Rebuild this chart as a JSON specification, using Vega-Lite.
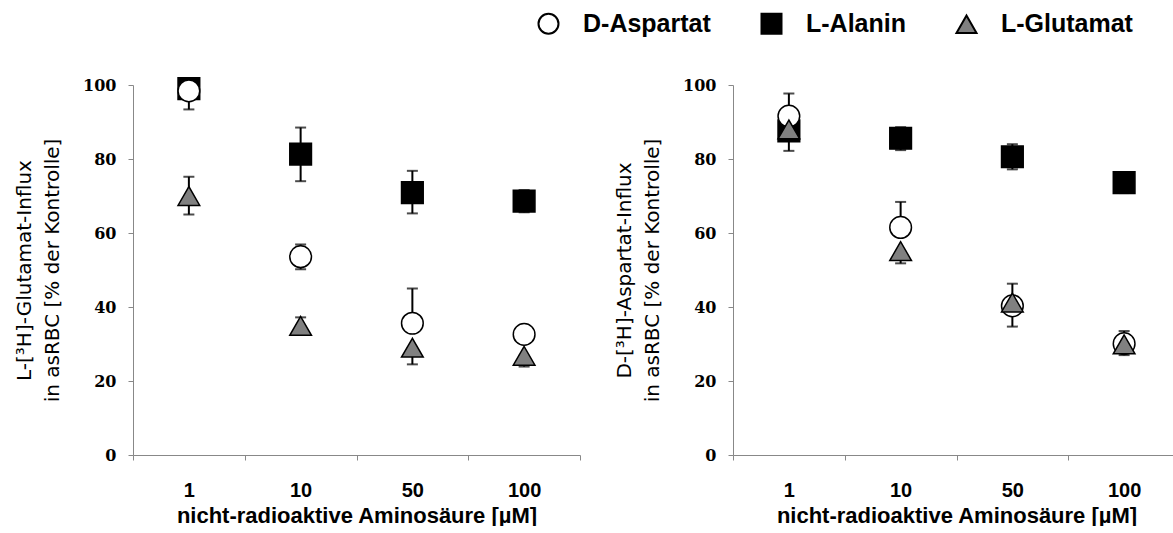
{
  "$schema": "https://vega.github.io/schema/vega-lite/v6.json",
  "padding": {"left": 14, "top": 11, "right": 0, "bottom": 0},
  "background": "white",
  "datasets": {
    "pts": [
      {"p": "G", "c": "1", "s": "L-Alanin", "v": 99.0, "lo": 99.0, "hi": 99.0},
      {"p": "G", "c": "10", "s": "L-Alanin", "v": 81.3, "lo": 74.0, "hi": 88.5},
      {"p": "G", "c": "50", "s": "L-Alanin", "v": 70.9, "lo": 65.3, "hi": 76.8},
      {"p": "G", "c": "100", "s": "L-Alanin", "v": 68.6, "lo": 65.6, "hi": 71.6},
      {"p": "G", "c": "1", "s": "D-Aspartat", "v": 98.4, "lo": 93.4, "hi": 98.4},
      {"p": "G", "c": "10", "s": "D-Aspartat", "v": 53.6, "lo": 50.2, "hi": 56.9},
      {"p": "G", "c": "50", "s": "D-Aspartat", "v": 35.6, "lo": 35.6, "hi": 45.0},
      {"p": "G", "c": "100", "s": "D-Aspartat", "v": 32.6, "lo": 32.6, "hi": 32.6},
      {"p": "G", "c": "1", "s": "L-Glutamat", "v": 70.0, "lo": 65.0, "hi": 75.2},
      {"p": "G", "c": "10", "s": "L-Glutamat", "v": 34.9, "lo": 34.9, "hi": 37.2},
      {"p": "G", "c": "50", "s": "L-Glutamat", "v": 29.0, "lo": 24.5, "hi": 29.0},
      {"p": "G", "c": "100", "s": "L-Glutamat", "v": 26.8, "lo": 23.9, "hi": 26.8},
      {"p": "A", "c": "1", "s": "L-Alanin", "v": 87.6, "lo": 87.6, "hi": 87.6},
      {"p": "A", "c": "10", "s": "L-Alanin", "v": 85.6, "lo": 82.4, "hi": 88.6},
      {"p": "A", "c": "50", "s": "L-Alanin", "v": 80.6, "lo": 77.2, "hi": 84.0},
      {"p": "A", "c": "100", "s": "L-Alanin", "v": 73.6, "lo": 70.8, "hi": 76.3},
      {"p": "A", "c": "1", "s": "D-Aspartat", "v": 91.6, "lo": 91.6, "hi": 97.7},
      {"p": "A", "c": "10", "s": "D-Aspartat", "v": 61.5, "lo": 61.5, "hi": 68.4},
      {"p": "A", "c": "50", "s": "D-Aspartat", "v": 40.3, "lo": 34.7, "hi": 40.3},
      {"p": "A", "c": "100", "s": "D-Aspartat", "v": 30.1, "lo": 30.1, "hi": 30.1},
      {"p": "A", "c": "1", "s": "L-Glutamat", "v": 88.0, "lo": 82.2, "hi": 88.0},
      {"p": "A", "c": "10", "s": "L-Glutamat", "v": 55.1, "lo": 51.8, "hi": 55.1},
      {"p": "A", "c": "50", "s": "L-Glutamat", "v": 41.2, "lo": 41.2, "hi": 46.3},
      {"p": "A", "c": "100", "s": "L-Glutamat", "v": 29.9, "lo": 27.0, "hi": 33.5}
    ]
  },
  "hconcat": [
    {
      "width": 447,
      "height": 370,
      "data": {"name": "pts"},
      "transform": [{"filter": "datum.p === 'G'"}],
      "encoding": {
        "x": {"field": "c", "type": "ordinal", "sort": ["1", "10", "50", "100"],
              "scale": {"paddingInner": 0, "paddingOuter": 0},
              "axis": {"title": "nicht-radioaktive Aminosäure [µM]"}}
      },
      "layer": [
        {"mark": {"type": "rule", "color": "black", "strokeWidth": 2},
         "encoding": {"y": {"field": "lo", "type": "quantitative", "scale": {"domain": [0, 100], "nice": false},
                            "axis": {"title": ["L-[³H]-Glutamat-Influx", "in asRBC [% der Kontrolle]"], "values": [0, 20, 40, 60, 80, 100]}},
                      "y2": {"field": "hi"}}},
        {"mark": {"type": "tick", "color": "black", "thickness": 2, "size": 11},
         "encoding": {"y": {"field": "lo", "type": "quantitative"}}},
        {"mark": {"type": "tick", "color": "black", "thickness": 2, "size": 11},
         "encoding": {"y": {"field": "hi", "type": "quantitative"}}},
        {"mark": {"type": "point", "filled": true, "strokeWidth": 1.5, "size": 470, "opacity": 1, "fillOpacity": 1, "strokeOpacity": 1},
         "encoding": {
           "y": {"field": "v", "type": "quantitative"},
           "shape": {"field": "s", "type": "nominal", "scale": {"domain": ["D-Aspartat", "L-Alanin", "L-Glutamat"], "range": ["circle", "square", "triangle-up"]}, "title": null},
           "fill": {"field": "s", "type": "nominal", "scale": {"domain": ["D-Aspartat", "L-Alanin", "L-Glutamat"], "range": ["white", "black", "#808080"]}, "title": null},
           "stroke": {"field": "s", "type": "nominal", "scale": {"domain": ["D-Aspartat", "L-Alanin", "L-Glutamat"], "range": ["black", "black", "black"]}, "title": null}
         }}
      ]
    },
    {
      "width": 447,
      "height": 370,
      "data": {"name": "pts"},
      "transform": [{"filter": "datum.p === 'A'"}],
      "encoding": {
        "x": {"field": "c", "type": "ordinal", "sort": ["1", "10", "50", "100"],
              "scale": {"paddingInner": 0, "paddingOuter": 0},
              "axis": {"title": "nicht-radioaktive Aminosäure [µM]"}}
      },
      "layer": [
        {"mark": {"type": "rule", "color": "black", "strokeWidth": 2},
         "encoding": {"y": {"field": "lo", "type": "quantitative", "scale": {"domain": [0, 100], "nice": false},
                            "axis": {"title": ["D-[³H]-Aspartat-Influx", "in asRBC [% der Kontrolle]"], "values": [0, 20, 40, 60, 80, 100]}},
                      "y2": {"field": "hi"}}},
        {"mark": {"type": "tick", "color": "black", "thickness": 2, "size": 11},
         "encoding": {"y": {"field": "lo", "type": "quantitative"}}},
        {"mark": {"type": "tick", "color": "black", "thickness": 2, "size": 11},
         "encoding": {"y": {"field": "hi", "type": "quantitative"}}},
        {"mark": {"type": "point", "filled": true, "strokeWidth": 1.5, "size": 470, "opacity": 1, "fillOpacity": 1, "strokeOpacity": 1},
         "encoding": {
           "y": {"field": "v", "type": "quantitative"},
           "shape": {"field": "s", "type": "nominal", "scale": {"domain": ["D-Aspartat", "L-Alanin", "L-Glutamat"], "range": ["circle", "square", "triangle-up"]}, "title": null},
           "fill": {"field": "s", "type": "nominal", "scale": {"domain": ["D-Aspartat", "L-Alanin", "L-Glutamat"], "range": ["white", "black", "#808080"]}, "title": null},
           "stroke": {"field": "s", "type": "nominal", "scale": {"domain": ["D-Aspartat", "L-Alanin", "L-Glutamat"], "range": ["black", "black", "black"]}, "title": null}
         }}
      ]
    }
  ],
  "spacing": 33,
  "config": {
    "view": {"stroke": null},
    "axis": {
      "domainColor": "#888888", "tickColor": "#888888", "tickSize": 5, "grid": false,
      "labelColor": "black", "titleColor": "black"
    },
    "axisX": {
      "tickBand": "extent", "labelAngle": 0,
      "labelFont": "Liberation Sans", "labelFontWeight": "bold", "labelFontSize": 20, "labelPadding": 20,
      "titleFont": "Liberation Sans", "titleFontWeight": "bold", "titleFontSize": 22, "titlePadding": 5
    },
    "axisY": {
      "labelFont": "DejaVu Serif", "labelFontWeight": "bold", "labelFontSize": 16, "labelPadding": 12,
      "titleFont": "DejaVu Sans", "titleFontWeight": "normal", "titleFontSize": 20, "titleLineHeight": 28, "titlePadding": 20
    },
    "legend": {
      "orient": "none", "direction": "horizontal", "legendX": 403, "legendY": -74,
      "labelFont": "Liberation Sans", "labelFontWeight": "bold", "labelFontSize": 25, "labelColor": "black",
      "symbolSize": 400, "symbolStrokeWidth": 2, "symbolOpacity": 1,
      "labelOffset": 22, "columnPadding": 46
    }
  },
  "resolve": {"scale": {"shape": "shared", "fill": "shared", "stroke": "shared"}}
}
